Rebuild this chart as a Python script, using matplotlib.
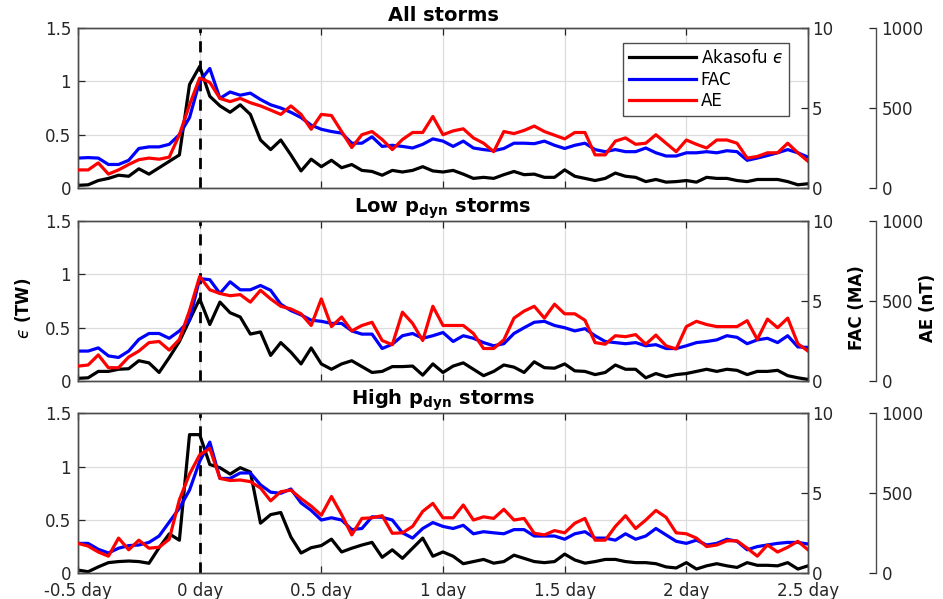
import numpy as np
import matplotlib.pyplot as plt

# hourly epochs, -12 h .. +60 h around storm onset
hours = np.arange(-12, 61)
days = hours / 24.0

# Akasofu epsilon (TW)
eps_all = [0.025, 0.03, 0.07, 0.09, 0.12, 0.11, 0.18, 0.13, 0.19, 0.25,
           0.31, 0.97, 1.14, 0.86, 0.77, 0.71, 0.78, 0.69, 0.45, 0.36,
           0.45, 0.31, 0.16, 0.27, 0.20, 0.26, 0.19, 0.22, 0.165, 0.155,
           0.12, 0.165, 0.15, 0.165, 0.20, 0.16, 0.15,
           0.165, 0.13, 0.09, 0.10, 0.09, 0.125, 0.155, 0.125, 0.13, 0.10,
           0.10, 0.17, 0.11, 0.09, 0.07, 0.09, 0.14, 0.11, 0.10, 0.06,
           0.08, 0.055, 0.06, 0.07, 0.055, 0.10, 0.09, 0.09, 0.07, 0.06,
           0.08, 0.08, 0.08, 0.06, 0.03, 0.04]
eps_low = [0.025, 0.03, 0.09, 0.09, 0.11, 0.115, 0.19, 0.17, 0.08, 0.22,
           0.37, 0.57, 0.77, 0.53, 0.74, 0.64, 0.60, 0.44, 0.46, 0.24,
           0.36, 0.27, 0.16, 0.31, 0.16, 0.11, 0.16, 0.19, 0.135, 0.08,
           0.09, 0.135, 0.135, 0.14, 0.055, 0.16, 0.08,
           0.14, 0.17, 0.11, 0.05, 0.09, 0.15, 0.13, 0.08, 0.18, 0.125,
           0.12, 0.16, 0.095, 0.09, 0.06, 0.08, 0.15, 0.11, 0.11, 0.03,
           0.07, 0.04, 0.06, 0.07, 0.09, 0.11, 0.09, 0.11, 0.10, 0.06,
           0.09, 0.09, 0.10, 0.05, 0.03, 0.015]
eps_high = [0.03, 0.015, 0.06, 0.10, 0.11, 0.115, 0.11, 0.094, 0.24, 0.37,
            0.31, 1.30, 1.30, 1.02, 0.99, 0.93, 0.99, 0.95, 0.47, 0.55,
            0.57, 0.34, 0.19, 0.24, 0.26, 0.32, 0.20, 0.235, 0.265, 0.29,
            0.15, 0.22, 0.14, 0.235, 0.33, 0.16, 0.20,
            0.16, 0.09, 0.11, 0.13, 0.095, 0.11, 0.17, 0.14, 0.11, 0.10,
            0.11, 0.18, 0.125, 0.095, 0.11, 0.13, 0.13, 0.11, 0.10, 0.10,
            0.09, 0.06, 0.05, 0.10, 0.04, 0.07, 0.09, 0.07, 0.055, 0.10,
            0.075, 0.075, 0.07, 0.10, 0.04, 0.07]

# FAC (MA)
fac_all = [1.87, 1.9, 1.87, 1.47, 1.47, 1.73, 2.47, 2.57, 2.57, 2.73,
           3.33, 4.4, 6.67, 7.47, 5.6, 6.0, 5.8, 5.93, 5.53, 5.2,
           5.0, 4.73, 4.4, 3.93, 3.67, 3.53, 3.43, 2.8, 2.8, 3.2,
           2.6, 2.67, 2.6, 2.5, 2.73, 3.07, 2.93,
           2.6, 2.93, 2.5, 2.4, 2.33, 2.47, 2.8, 2.8, 2.77, 2.93,
           2.67, 2.47, 2.67, 2.8, 2.4, 2.27, 2.4, 2.27, 2.27, 2.5,
           2.2, 2.0, 2.0, 2.2, 2.2, 2.27, 2.2, 2.33, 2.27, 1.73,
           1.87, 2.03, 2.2, 2.4, 2.2, 1.93]
fac_low = [1.87, 1.87, 2.07, 1.57, 1.47, 1.87, 2.6, 2.97, 2.97, 2.67,
           3.13, 3.8, 6.4, 6.33, 5.47, 6.2, 5.7, 5.7, 5.97, 5.67,
           4.8, 4.4, 4.13, 3.8, 3.73, 3.6, 3.6, 3.13, 2.93, 2.93,
           2.03, 2.3, 2.83, 2.97, 2.67, 2.83, 3.03,
           2.47, 2.83, 2.67, 2.4, 2.2, 2.33, 2.97, 3.33, 3.67,
           3.73, 3.47, 3.33, 3.13, 3.27, 2.83, 2.47, 2.4, 2.33, 2.4,
           2.2, 2.27, 2.03, 2.03, 2.2, 2.4, 2.47, 2.57, 2.83, 2.73,
           2.33, 2.57, 2.67, 2.4, 2.83, 2.13, 2.1]
fac_high = [1.87, 1.87, 1.5, 1.27, 1.57, 1.73, 1.77, 1.93, 2.33, 3.2,
            4.07, 5.2, 7.0, 8.2, 5.93, 5.93, 6.27, 6.27, 5.53, 5.07,
            5.0, 5.27, 4.4, 3.93, 3.33, 3.47, 3.33, 2.73, 2.8, 3.53,
            3.5, 3.33, 2.53, 2.2, 2.8, 3.17, 2.93,
            2.8, 3.0, 2.47, 2.6, 2.53, 2.47, 2.73, 2.73, 2.33,
            2.33, 2.33, 2.13, 2.47, 2.6, 2.2, 2.2, 2.07, 2.47, 2.13,
            2.33, 2.8, 2.4, 2.0, 1.87, 2.07, 1.77, 1.87, 2.13, 2.0,
            1.47, 1.67, 1.77, 1.87, 1.93, 1.93, 1.83]

# AE (nT)
ae_all = [113, 113, 157, 87, 113, 147, 177, 187, 180, 193,
          333, 520, 687, 660, 560, 540, 560, 533, 513, 487,
          460, 513, 460, 367, 460, 453, 353, 253, 333, 353,
          303, 240, 303, 347, 347, 447, 333,
          357, 370, 313, 280, 227, 353, 340, 360, 387, 353,
          330, 307, 347, 347, 207, 207, 293, 313, 273, 280,
          333, 280, 227, 300, 273, 250, 300, 300, 280, 187,
          197, 220, 220, 280, 220, 167]
ae_low = [93, 100, 163, 83, 83, 150, 187, 240, 247, 193,
          260, 440, 653, 570, 547, 533, 540, 493, 567, 513,
          467, 450, 420, 347, 513, 340, 400, 313, 347, 367,
          253, 227, 430, 360, 253, 467, 347,
          347, 347, 297, 203, 203, 257, 393, 437, 467,
          393, 480, 420, 420, 380, 240, 230, 283, 277, 290,
          230, 287, 220, 200, 340, 373, 353, 340, 340, 340,
          377, 260, 387, 333, 393, 233, 187]
ae_high = [187, 170, 133, 107, 220, 147, 207, 157, 163, 213,
           460, 620, 740, 780, 593, 580, 583, 573, 533, 453,
           510, 520, 467, 420, 363, 480, 367, 240, 343, 347,
           360, 250, 253, 293, 387, 437, 347,
           347, 427, 333, 353, 343, 400, 333, 343, 250,
           240, 267, 253, 313, 343, 207, 207, 293, 360, 280,
           333, 393, 350, 253, 247, 220, 167, 177, 203, 203,
           157, 107, 177, 133, 163, 200, 147]

titles = ["All storms",
          r"Low $\mathbf{p}_{\mathbf{dyn}}$ storms",
          r"High $\mathbf{p}_{\mathbf{dyn}}$ storms"]
panels = [(eps_all, fac_all, ae_all), (eps_low, fac_low, ae_low),
          (eps_high, fac_high, ae_high)]

xticks = [-0.5, 0, 0.5, 1, 1.5, 2, 2.5]
xticklabels = ["-0.5 day", "0 day", "0.5 day", "1 day", "1.5 day", "2 day", "2.5 day"]

txt = "#262626"
edge = "#4d4d4d"
fs = 12
lw = 2.3

W, H = 943, 599
fig = plt.figure(figsize=(W / 100, H / 100), dpi=100)

tops = [28, 221, 413.3]
for i, (eps, fac, ae) in enumerate(panels):
    top = tops[i]
    ax = fig.add_axes([78 / W, 1 - (top + 160) / H, 730 / W, 160 / H])
    ax2 = ax.twinx()
    ax3 = ax.twinx()
    ax3.spines["right"].set_position(("axes", 1.093))

    l1, = ax.plot(days, eps, color="black", lw=lw)
    l2, = ax2.plot(days, fac, color="blue", lw=lw)
    l3, = ax3.plot(days, ae, color="red", lw=lw)
    ax.axvline(0, color="black", lw=2, ls=(0, (4, 3)), zorder=1)

    ax.set_xlim(-0.5, 2.5)
    ax.set_ylim(0, 1.5)
    ax2.set_ylim(0, 10)
    ax3.set_ylim(0, 1000)

    ax.set_xticks(xticks)
    if i == 2:
        ax.set_xticklabels(xticklabels)
    else:
        ax.set_xticklabels([])
    ax.set_yticks([0, 0.5, 1, 1.5])
    ax.set_yticklabels(["0", "0.5", "1", "1.5"])
    ax2.set_yticks([0, 5, 10])
    ax2.set_yticklabels(["0", "5", "10"])
    ax3.set_yticks([0, 500, 1000])
    ax3.set_yticklabels(["0", "500", "1000"])

    ax.grid(True, color="#dcdcdc", lw=0.9)
    ax.set_axisbelow(True)

    ax.tick_params(axis="both", direction="in", length=5, labelsize=fs,
                   colors=txt, top=True, right=False, width=0.9)
    ax.tick_params(axis="x", pad=6)
    ax.tick_params(axis="y", pad=5)
    ax2.tick_params(axis="y", direction="in", length=5, labelsize=fs,
                    colors=txt, pad=3, width=0.9)
    ax3.tick_params(axis="y", direction="in", length=5, labelsize=fs,
                    colors=txt, pad=4, width=0.9)

    for a in (ax, ax2, ax3):
        for s in a.spines.values():
            s.set_color(edge)
            s.set_linewidth(1.0)
    for s in ("top", "bottom", "left"):
        ax3.spines[s].set_visible(False)

    ax.set_title(titles[i], fontsize=14, fontweight="bold", color="black", pad=5)

    if i == 0:
        leg = ax3.legend([l1, l2, l3], ["Akasofu $\u03f5$", "FAC", "AE"],
                         loc="upper right", bbox_to_anchor=(0.974, 0.906),
                         borderaxespad=0, fontsize=fs, handlelength=4.0,
                         fancybox=False, framealpha=1, edgecolor=edge,
                         borderpad=0.35, labelspacing=0.22, handletextpad=0.3)
        leg.get_frame().set_linewidth(1.0)

fig.text(23 / W, 1 - 308 / H, "$\u03f5$ (TW)", rotation=90, fontsize=fs,
         fontweight="bold", color="black", ha="center", va="center")
fig.text(857 / W, 1 - 308 / H, "FAC (MA)", rotation=90, fontsize=fs,
         fontweight="bold", color="black", ha="center", va="center")
fig.text(928 / W, 1 - 308 / H, "AE (nT)", rotation=90, fontsize=fs,
         fontweight="bold", color="black", ha="center", va="center")

fig.savefig("out.png", dpi=100)
